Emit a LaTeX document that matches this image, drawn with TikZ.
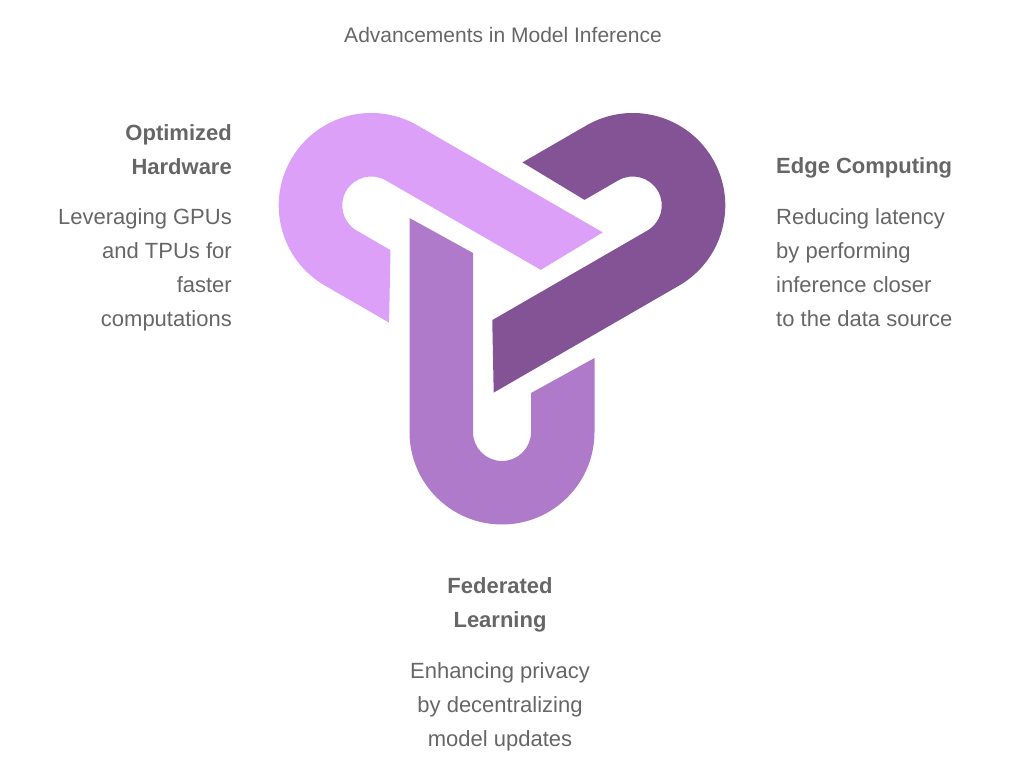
\documentclass[tikz,border=0pt]{standalone}
\usepackage{fontspec}
\setmainfont{Liberation Sans}
\definecolor{cLight}{HTML}{DDA0F8}
\definecolor{cMid}{HTML}{B07ACA}
\definecolor{cDark}{HTML}{835396}
\begin{document}
\begin{tikzpicture}[x=1pt,y=1pt,
  txt/.style={inner sep=0pt,text=black!60,font=\fontsize{22}{34}\selectfont},
  head/.style={txt,font=\fontsize{22}{34}\selectfont\bfseries}]
\useasboundingbox (0,0) rectangle (1024,772);
\def\ushape{(-92.5,63) -- (-92.5,-151) arc (180:360:92.5) -- (92.5,-77) -- (29,-112) -- (29,-151) arc (0:-180:29) -- (-29,28) -- cycle}
\begin{scope}[shift={(502,491)}]
  \fill[cMid] \ushape;
  \begin{scope}[rotate=120] \fill[cDark] \ushape; \end{scope}
  \begin{scope}[rotate=240] \fill[cLight] \ushape; \end{scope}
\end{scope}
\node[txt,font=\fontsize{21}{30}\selectfont] (title) at (503,737) {Advancements in Model Inference};
\node[head,anchor=north east,align=right] (h1) at (232,648) {Optimized\\Hardware};
\node[txt,anchor=north east,align=right] (b1) at (232,564) {Leveraging GPUs\\and TPUs for\\faster\\computations};
\node[head,anchor=north west,align=left] (h2) at (776,615) {Edge Computing};
\node[txt,anchor=north west,align=left] (b2) at (776,564) {Reducing latency\\by performing\\inference closer\\to the data source};
\node[head,anchor=north,align=center] (h3) at (500,195) {Federated\\Learning};
\node[txt,anchor=north,align=center] (b3) at (500,110) {Enhancing privacy\\by decentralizing\\model updates};
\end{tikzpicture}
\end{document}
